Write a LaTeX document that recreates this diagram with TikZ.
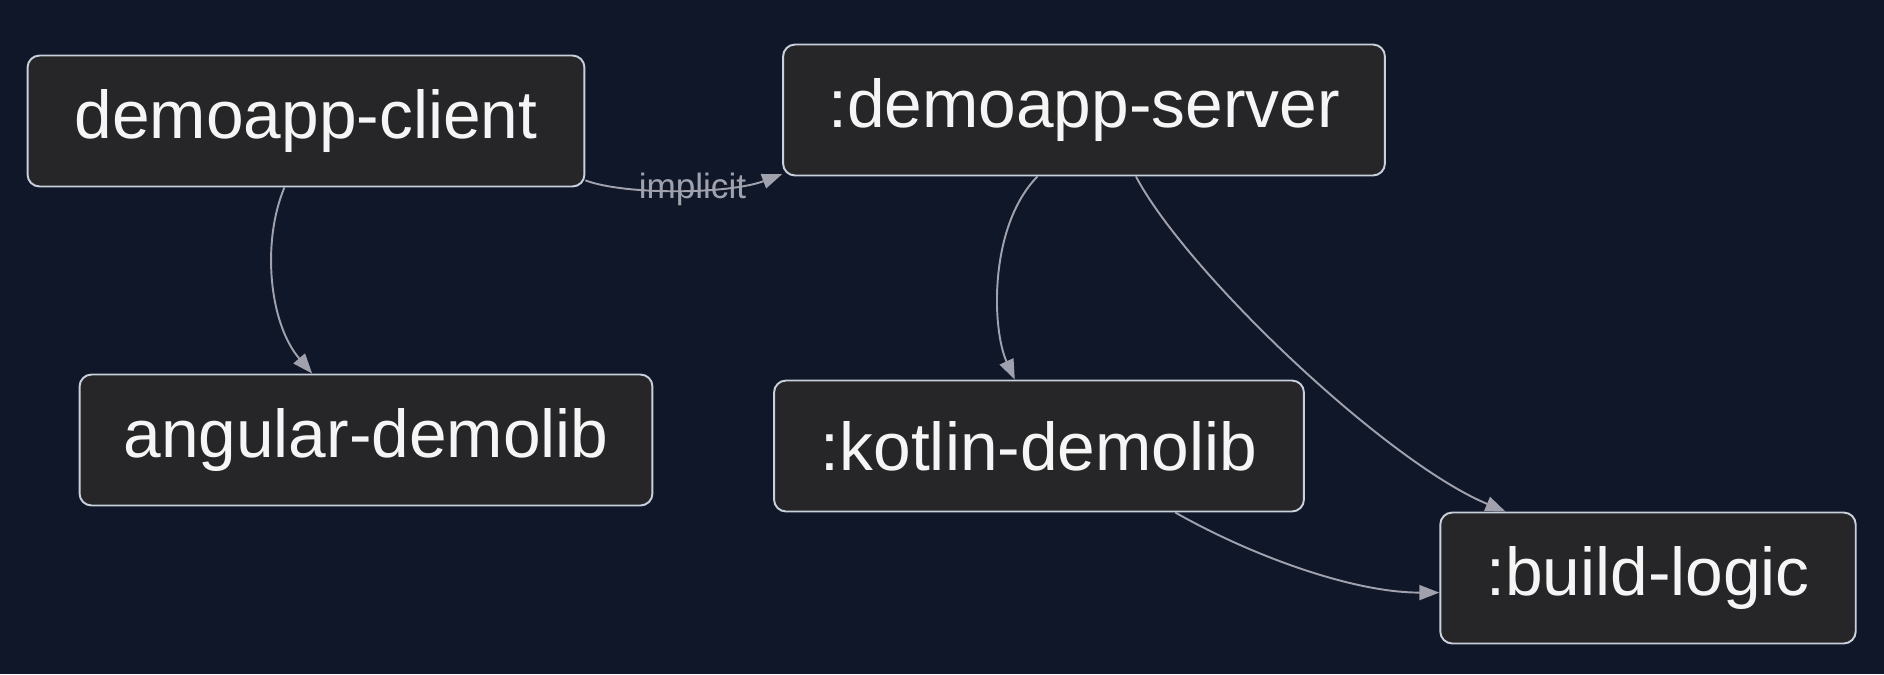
\documentclass[tikz,border=0pt]{standalone}
\usepackage{fontspec}
\setmainfont{Liberation Sans}
\usetikzlibrary{arrows.meta}
\definecolor{bgnavy}{RGB}{15,23,41}
\definecolor{modfill}{RGB}{38,38,40}
\definecolor{modline}{RGB}{200,208,220}
\definecolor{depline}{RGB}{160,161,172}
\definecolor{modtext}{RGB}{245,245,245}
\begin{document}
\begin{tikzpicture}[
    x=0.02cm, y=-0.02cm,
    module/.style={
        draw=modline, line width=1.1pt, fill=modfill, rounded corners=0.24cm,
        minimum height=2.62cm, inner sep=0pt,
        font=\fontsize{38.5}{46}\selectfont, text=modtext
    },
    dep/.style={
        draw=depline, line width=1.1pt,
        -{Triangle[length=0.4cm, width=0.3cm]}
    },
    deplabel/.style={font=\fontsize{20}{24}\selectfont, text=depline, inner sep=0pt}
]
\fill[bgnavy] (0,0) rectangle (1884,674);
\foreach \name/\x/\y/\w/\lbl in {%
    client/306/121/11.14/{demoapp-client},
    server/1084/110/12.04/{:demoapp-server},
    angular/366/440/11.46/{angular-demolib},
    kotlin/1039/446/10.6/{:kotlin-demolib},
    build/1648/578/8.31/{:build-logic}%
} {
    \node[module, minimum width=\w cm] (\name) at (\x,\y) {\lbl};
}
% dependencies
\draw[dep] (client.-12) .. controls +(40,15) and +(-53,20) .. (server.192)
    node[deplabel, pos=0.56] (implicitlbl) {implicit};
\draw[dep] (client.252) .. controls +(-23,55) and +(-43,-50) .. (angular.129);
\draw[dep] (server.235) .. controls +(-49,50) and +(-23,-50) .. (kotlin.110);
\draw[dep] (server.308) .. controls +(50,95) and +(-120,-50) .. (build.155);
\draw[dep] (kotlin.334) .. controls +(70,40) and +(-90,0) .. (build.184);
\end{tikzpicture}
\end{document}
